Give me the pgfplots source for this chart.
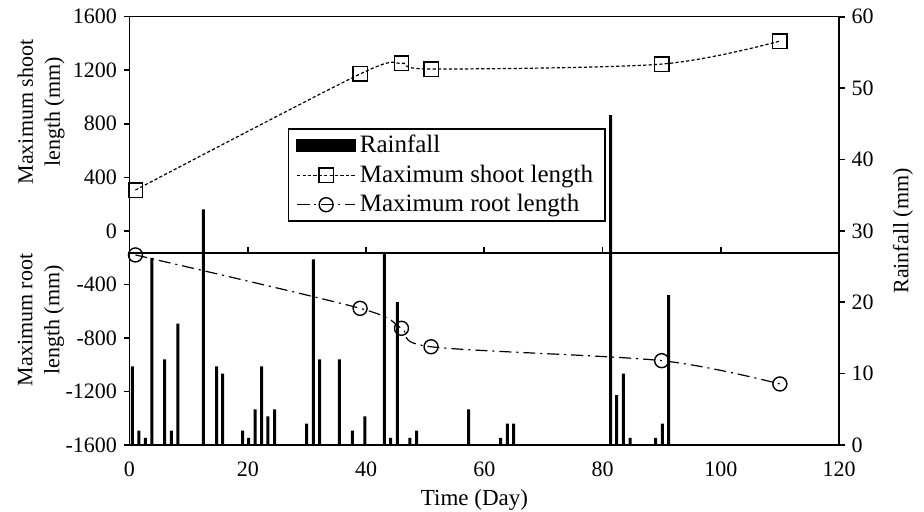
\documentclass[border=0pt]{standalone}
\usepackage{fontspec}
\setmainfont{Liberation Serif}
\usepackage{pgfplots}
\pgfplotsset{compat=1.18}
\pgfplotsset{
  linelegend/.style={legend image code/.code={\draw[mark repeat=2, mark phase=2, ##1] plot coordinates {(0pt,0pt) (14.5pt,0pt) (29pt,0pt)};}},
  arealegend/.style={legend image code/.code={\fill[black] (0pt,-3pt) rectangle (29pt,3pt);}},
  base/.style={scale only axis, width=354.75pt, height=214.15pt, xmin=0, xmax=120,
    /pgf/number format/assume math mode=true,
    /pgf/number format/1000 sep={},
    tick label style={font=\fontsize{11}{13}\selectfont},
    axis line style={-, line width=0.8pt},
    major tick length=2.8pt,
    tick style={line width=0.8pt, black},
    tick align=outside},
}
\begin{document}
\begin{tikzpicture}
\begin{axis}[base, ymin=0, ymax=60, axis y line*=right, axis x line=none,
  ytick={0,10,...,60}]
\addplot[ybar, bar width=1.5pt, fill=black, draw=none] coordinates {
(0.5,11)(1.6,2)(2.7,1)(3.8,26.2)(5.95,12)(7.1,2)(8.2,17)(12.5,33)(14.75,11)
(15.76,10)(19.15,2)(20.16,1)(21.23,5)(22.36,11)(23.42,4)(24.56,5)(29.97,3)
(31.09,26)(32.14,12)(35.48,12)(37.68,2)(39.83,4)(43.1,27)(44.18,1)(45.29,20)
(47.44,1)(48.58,2)(57.34,5)(62.78,1)(63.9,3)(64.98,3)(81.39,46.2)(82.4,7)
(83.55,10)(84.65,1)(88.99,1)(90.11,3)(91.2,21)};
\end{axis}
\begin{axis}[base, ymin=-1600, ymax=1600, ytick={-1600,-1200,...,1600},
  ytick pos=left, xtick={0,20,...,120}, xtick pos=bottom,
  xtick style={draw=none}, xticklabel style={yshift=-2pt},
  legend cell align=left,
  legend style={at={(0.223,0.739)}, anchor=north west,
    font=\fontsize{12.5}{15}\selectfont, draw=black, line width=0.7pt,
    inner xsep=4pt, inner ysep=1pt, row sep=0.6pt}]
\addlegendimage{arealegend}
\addlegendentry{Rainfall}
\addplot[smooth, black, line width=0.6pt, dash pattern=on 1.6pt off 1.1pt,
  mark=square, mark size=3.6pt, mark options={solid, line width=0.7pt, fill=none},
  linelegend]
  coordinates {(1,305)(39,1172)(46,1252)(51,1209)(90,1246)(110,1418)};
\addlegendentry{Maximum shoot length}
\addplot[smooth, black, line width=0.6pt, dash pattern=on 6pt off 2.5pt on 1pt off 2.5pt,
  mark=o, mark size=3.5pt, mark options={solid, line width=0.7pt, fill=none},
  linelegend]
  coordinates {(1,-180)(39,-579)(46,-728)(51,-866)(90,-970)(110,-1144)};
\addlegendentry{Maximum root length}
\draw[line width=0.8pt] (axis cs:0,-165) -- (axis cs:120,-165);
\pgfplotsinvokeforeach{20,40,60,80,100}{\draw[line width=0.8pt] (axis cs:#1,-165) -- ([yshift=3pt]axis cs:#1,-165);}
\end{axis}
\node[rotate=90, align=center, font=\fontsize{11}{13.5}\selectfont] at (-44.25pt,166.5pt) {Maximum shoot\\length (mm)};
\node[rotate=90, align=center, font=\fontsize{11}{13.5}\selectfont] at (-44.25pt,62.5pt) {Maximum root\\length (mm)};
\node[rotate=90, font=\fontsize{11}{13.5}\selectfont] at (386.75pt,107pt) {Rainfall (mm)};
\node[font=\fontsize{11.5}{13.5}\selectfont] at (172.5pt,-27.5pt) {Time (Day)};
\pgfresetboundingbox
\useasboundingbox (-64.75pt,-33.5pt) rectangle (397.25pt,222.5pt);
\end{tikzpicture}
\end{document}
